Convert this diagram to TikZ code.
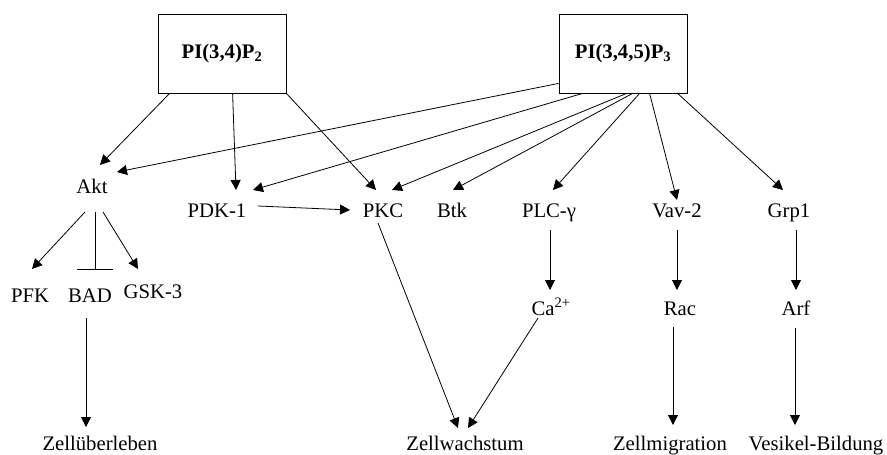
\documentclass[tikz,border=0pt]{standalone}
\usepackage{fontspec}
\setmainfont{Liberation Serif}
\usetikzlibrary{arrows.meta,calc}
\begin{document}
\begin{tikzpicture}[x=1pt,y=-1pt,
  every node/.style={font=\fontsize{20.7}{24}\selectfont},
  lbl/.style={anchor=base,inner sep=0pt},
  pbox/.style={draw,line width=0.8pt,minimum width=128pt,minimum height=79pt,inner sep=0pt,font=\fontsize{20.7}{24}\selectfont\bfseries},
  arr/.style={line width=0.8pt,-{Triangle[length=10pt,width=10pt]}},
  inh/.style={line width=0.8pt,-{Bar[width=36pt,line width=1.1pt]}}]
\useasboundingbox (0,0) rectangle (887,455);
% boxes
\node[pbox] (b1) at (222,53.5) {PI(3,4)P\textsubscript{2}};
\node[pbox] (b2) at (623,53.5) {PI(3,4,5)P\textsubscript{3}};
% labels
\node[lbl] (akt) at (92,193) {Akt};
\node[lbl] (pdk) at (217,217) {PDK-1};
\node[lbl] (pkc) at (383,217) {PKC};
\node[lbl] (btk) at (452,217) {Btk};
\node[lbl] (plc) at (549,217) {PLC-γ};
\node[lbl] (vav) at (677,217) {Vav-2};
\node[lbl] (grp) at (789,217) {Grp1};
\node[lbl] (pfk) at (30,302) {PFK};
\node[lbl] (bad) at (90,302) {BAD};
\node[lbl] (gsk) at (153,298) {GSK-3};
\node[lbl] (ca) at (551,315) {Ca\textsuperscript{2+}};
\node[lbl] (rac) at (680,315) {Rac};
\node[lbl] (arf) at (796,315) {Arf};
\node[lbl] (zu) at (100,450) {Zellüberleben};
\node[lbl] (zw) at (465,450) {Zellwachstum};
\node[lbl] (zm) at (670,450) {Zellmigration};
\node[lbl] (vb) at (816,450) {Vesikel-Bildung};
% PI(3,4)P2 arrows
\draw[arr] ($(b1.south west)+(12,0)$) -- ($(akt.base)+(8,-28)$);
\draw[arr] ($(b1.south west)+(75,0)$) -- ($(pdk.base)+(19,-27)$);
\draw[arr] (b1.south east) -- ($(pkc.base)+(-7,-27)$);
% PI(3,4,5)P3 arrows
\draw[arr] ($(b2.south west)+(0,-10)$) -- ($(akt.base)+(25,-21)$);
\draw[arr] ($(b2.south west)+(24,0)$) -- ($(pdk.base)+(36,-27)$);
\draw[arr] ($(b2.south west)+(68,0)$) -- ($(pkc.base)+(9,-27)$);
\draw[arr] ($(b2.south west)+(74,0)$) -- ($(btk.base)+(1,-27)$);
\draw[arr] ($(b2.south west)+(81,0)$) -- ($(plc.base)+(4,-27)$);
\draw[arr] ($(b2.south west)+(91,0)$) -- ($(vav.base)+(0,-17)$);
\draw[arr] ($(b2.south west)+(119,0)$) -- ($(grp.base)+(-6,-27)$);
% middle
\draw[arr] ($(pdk.base)+(41,-11)$) -- ($(pkc.base)+(-33,-7)$);
\draw[arr] ($(akt.base)+(-7,19)$) -- ($(pfk.base)+(2,-33)$);
\draw[inh] ($(akt.base)+(3,19)$) -- ($(bad.base)+(5,-32)$);
\draw[arr] ($(akt.base)+(11,19)$) -- ($(gsk.base)+(-15,-29)$);
\draw[arr] ($(pkc.base)+(-5,6)$) -- ($(zw.base)+(-7,-22)$);
\draw[arr] ($(plc.base)+(1,13)$) -- ($(ca.base)+(-1,-25)$);
\draw[arr] ($(vav.base)+(0,13)$) -- ($(rac.base)+(-3,-25)$);
\draw[arr] ($(grp.base)+(7,13)$) -- ($(arf.base)+(0,-25)$);
% bottom
\draw[arr] ($(bad.base)+(-4,16)$) -- ($(zu.base)+(-14,-23)$);
\draw[arr] ($(ca.base)+(-13,3)$) -- ($(zw.base)+(3,-22)$);
\draw[arr] ($(rac.base)+(-7,12)$) -- ($(zm.base)+(3,-25)$);
\draw[arr] ($(arf.base)+(-1,13)$) -- ($(vb.base)+(-21,-25)$);
\end{tikzpicture}
\end{document}
